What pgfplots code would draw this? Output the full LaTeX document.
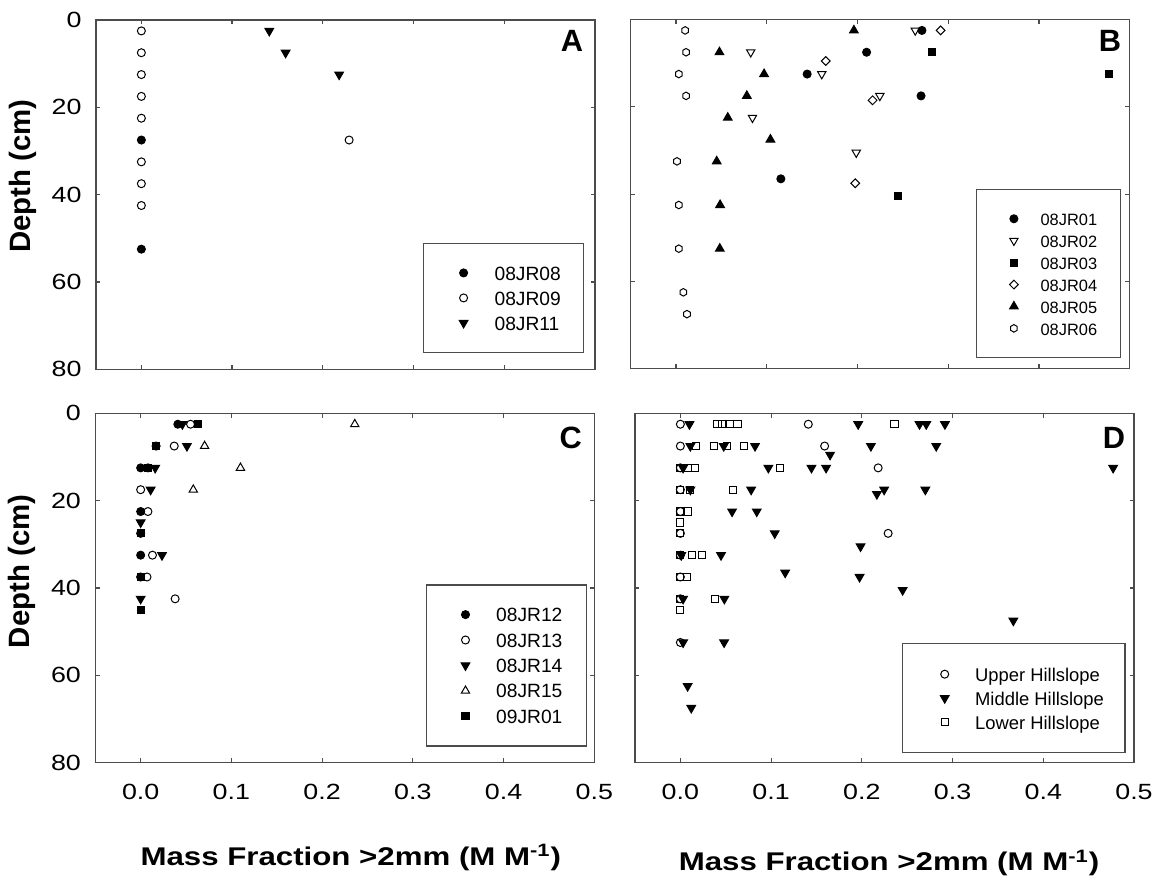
\documentclass[border=0pt]{standalone}
\usepackage{fontspec}
\setmainfont{Liberation Sans}
\newfontfamily\wideface[FakeStretch=1.22]{Liberation Sans}
\usepackage{pgfplots}
\pgfplotsset{compat=1.18}
\usepackage{pgfplotstable}
\usetikzlibrary{plotmarks}

% open hexagon mark
\pgfdeclareplotmark{hexagon}{%
  \pgfpathmoveto{\pgfqpointpolar{90}{\pgfplotmarksize}}%
  \pgfpathlineto{\pgfqpointpolar{150}{\pgfplotmarksize}}%
  \pgfpathlineto{\pgfqpointpolar{210}{\pgfplotmarksize}}%
  \pgfpathlineto{\pgfqpointpolar{270}{\pgfplotmarksize}}%
  \pgfpathlineto{\pgfqpointpolar{330}{\pgfplotmarksize}}%
  \pgfpathlineto{\pgfqpointpolar{30}{\pgfplotmarksize}}%
  \pgfpathclose
  \pgfusepathqstroke}

% ---------------- data: mass fraction (x) vs depth in cm (y) ----------------
% upper hillslope
\pgfplotstableread{
x y
0 27.5
0 52.5
}\tJReight
\pgfplotstableread{
x y
0 2.5
0 7.5
0 12.5
0 17.5
0 22.5
0.229 27.5
0 32.5
0 37.5
0 42.5
}\tJRnine
\pgfplotstableread{
x y
0.141 2.5
0.159 7.5
0.218 12.5
}\tJReleven
% middle hillslope
\pgfplotstableread{
x y
0.271 2.5
0.210 7.5
0.1445 12.5
0.270 17.5
0.1155 36.5
}\tJRone
\pgfplotstableread{
x y
0.2636 2.5
0.0823 7.5
0.1606 12.5
0.2246 17.5
0.0842 22.5
0.1986 30.5
}\tJRtwo
\pgfplotstableread{
x y
0.282 7.5
0.477 12.5
0.245 40.5
0.367 47.5
}\tJRthree
\pgfplotstableread{
x y
0.2916 2.5
0.165 9.5
0.2166 18.5
0.1975 37.5
}\tJRfour
\pgfplotstableread{
x y
0.196 2.5
0.0478 7.5
0.097 12.5
0.078 17.5
0.057 22.5
0.104 27.5
0.0448 32.5
0.0485 42.5
0.0482 52.5
}\tJRfive
\pgfplotstableread{
x y
0.010 2.5
0.011 7.5
0.003 12.5
0.011 17.5
0.001 32.5
0.003 42.5
0.003 52.5
0.008 62.5
0.012 67.5
}\tJRsix
% lower hillslope
\pgfplotstableread{
x y
0.041 2.5
0.017 7.5
0 12.5
0 22.5
0 27.5
0 32.5
0 37.5
}\tJRtwelve
\pgfplotstableread{
x y
0.055 2.5
0.037 7.5
0.008 12.5
0 17.5
0.008 22.5
0.013 32.5
0.007 37.5
0.038 42.5
}\tJRthirteen
\pgfplotstableread{
x y
0.046 2.5
0.051 7.5
0.016 12.5
0.011 17.5
0 25
0.0235 32.5
0 42.5
}\tJRfourteen
\pgfplotstableread{
x y
0.236 2.5
0.0705 7.5
0.110 12.5
0.058 17.5
}\tJRfifteen
\pgfplotstableread{
x y
0.063 2.5
0.017 7.5
0.008 12.5
0 27.5
0 37.5
0 45
}\tNJRone

\tikzset{letter/.style={font=\fontsize{15.4}{18}\selectfont\bfseries, anchor=center}}

\pgfplotsset{
  panel/.style={
    scale only axis, width=249.5pt, height=174.6pt,
    anchor=north west,
    xmin=-0.05, xmax=0.5, ymin=0, ymax=80, y dir=reverse,
    xtick={0,0.1,0.2,0.3,0.4,0.5}, ytick={0,20,40,60,80},
    tick align=inside, major tick length=2.2pt,
    axis line style={black!70, line width=0.6pt},
    every tick/.style={black!70, line width=0.6pt},
    tick label style={font=\wideface\fontsize{11}{13}\selectfont},
    /pgf/number format/assume math mode=true,
    xticklabel style={/pgf/number format/fixed, /pgf/number format/fixed zerofill,
      /pgf/number format/precision=1, anchor=center, yshift=-14.9pt},
    yticklabel style={anchor=east, inner sep=0pt, xshift=-7pt},
    legend cell align=left,
    ylabel={Depth (cm)},
    xlabel={Mass Fraction >2mm (M M\textsuperscript{-1})},
    ylabel style={font=\fontsize{14.7}{17}\selectfont\bfseries, anchor=center},
    xlabel style={font=\wideface\bfseries\fontsize{12.8}{15}\selectfont, anchor=center},
  },
  leg/.style n args={5}{legend style={at={(#1,#2)}, anchor=north west,
      draw=black!70, line width=0.6pt, fill=white,
      inner xsep=#3, inner ysep=#4, font=\fontsize{#5}{#5}\selectfont,
      row sep=0pt, column sep=0pt,
      nodes={draw=none, fill=none, inner sep=0pt, text height=0.716em, text depth=0pt}}},
  pts/.style={only marks, line width=0.5pt,
    legend image code/.code={%
      \path[draw=none, fill=none] (-\legL,-\legH) rectangle (\legR,\legH);
      \draw[##1] plot coordinates {(0pt,0pt)};}},
  fcirc/.style={pts, mark=*, mark size=2pt},
  ocirc/.style={pts, mark=o, mark size=2pt},
  fdown/.style={pts, mark=triangle*, mark size=2.5pt, mark options={rotate=180}},
  odown/.style={pts, mark=triangle, mark size=2.4pt, mark options={rotate=180}},
  oup/.style={pts, mark=triangle, mark size=2.4pt},
  fsq/.style={pts, mark=square*, mark size=1.8pt},
  osq/.style={pts, mark=square, mark size=1.8pt},
  odiam/.style={pts, mark=square, mark size=1.55pt, mark options={rotate=45}},
  ohex/.style={pts, mark=hexagon, mark size=1.9pt},
}

\begin{document}
\begin{tikzpicture}
\path[use as bounding box] (0,0) rectangle (582.5pt,-441pt);

% ---------------- A ----------------
\def\legL{8.5pt}\def\legR{15.5pt}\def\legH{6.25pt}
\begin{axis}[panel, at={(48pt,-10pt)},
  xticklabels={}, xlabel={},
  ylabel style={at={(axis description cs:-0.1463,0.553)}},
  leg={0.6553}{0.3619}{11.5pt}{8.5pt}{9.6}]
\addplot[fcirc] table {\tJReight};
\addplot[ocirc] table {\tJRnine};
\addplot[fdown] table {\tJReleven};
\legend{08JR08,08JR09,08JR11}
\node[letter] at (axis description cs:0.954,0.941) {A};
\end{axis}

% ---------------- B ----------------
\def\legL{7.05pt}\def\legR{13.35pt}\def\legH{5.48pt}
\begin{axis}[panel, at={(315.35pt,-9.75pt)},
  xticklabels={}, yticklabels={}, xlabel={}, ylabel={},
  leg={0.692}{0.514}{11.6pt}{9pt}{8.2}]
\addplot[fcirc] table {\tJRone};
\addplot[odown] table {\tJRtwo};
\addplot[fsq] table {\tJRthree};
\addplot[odiam] table {\tJRfour};
\addplot[pts, mark=triangle*, mark size=2.5pt] table {\tJRfive};
\addplot[ohex] table {\tJRsix};
\legend{08JR01,08JR02,08JR03,08JR04,08JR05,08JR06}
\node[letter] at (axis description cs:0.9605,0.94) {B};
\end{axis}

% ---------------- C ----------------
\def\legL{7.35pt}\def\legR{15.35pt}\def\legH{6.35pt}
\begin{axis}[panel, at={(47.65pt,-206.65pt)},
  ylabel style={at={(axis description cs:-0.1463,0.5475)}},
  xlabel style={at={(axis description cs:0.512,-0.273)}},
  leg={0.6627}{0.5103}{12.1pt}{8.5pt}{9.6}]
\addplot[fcirc] table {\tJRtwelve};
\addplot[ocirc] table {\tJRthirteen};
\addplot[fdown] table {\tJRfourteen};
\addplot[oup] table {\tJRfifteen};
\addplot[fsq] table {\tNJRone};
\legend{08JR12,08JR13,08JR14,08JR15,09JR01}
\node[letter] at (axis description cs:0.953,0.93) {C};
\end{axis}

% ---------------- D ----------------
\def\legL{10.7pt}\def\legR{15.2pt}\def\legH{6pt}
\begin{axis}[panel, at={(317.5pt,-206.65pt)},
  yticklabels={}, ylabel={},
  xlabel style={at={(axis description cs:0.509,-0.288)}},
  leg={0.5345}{0.3426}{10.5pt}{9.35pt}{9.2}]
% upper hillslope
\addplot[ocirc] table {\tJReight};
\addplot[ocirc, forget plot] table {\tJRnine};
\addplot[ocirc, forget plot] table {\tJReleven};
% middle hillslope
\addplot[fdown] table {\tJRone};
\addplot[fdown, forget plot] table {\tJRtwo};
\addplot[fdown, forget plot] table {\tJRthree};
\addplot[fdown, forget plot] table {\tJRfour};
\addplot[fdown, forget plot] table {\tJRfive};
\addplot[fdown, forget plot] table {\tJRsix};
% lower hillslope
\addplot[osq] table {\tJRtwelve};
\addplot[osq, forget plot] table {\tJRthirteen};
\addplot[osq, forget plot] table {\tJRfourteen};
\addplot[osq, forget plot] table {\tJRfifteen};
\addplot[osq, forget plot] table {\tNJRone};
\legend{Upper Hillslope,Middle Hillslope,Lower Hillslope}
\node[letter] at (axis description cs:0.96,0.93) {D};
\end{axis}
\end{tikzpicture}
\end{document}
